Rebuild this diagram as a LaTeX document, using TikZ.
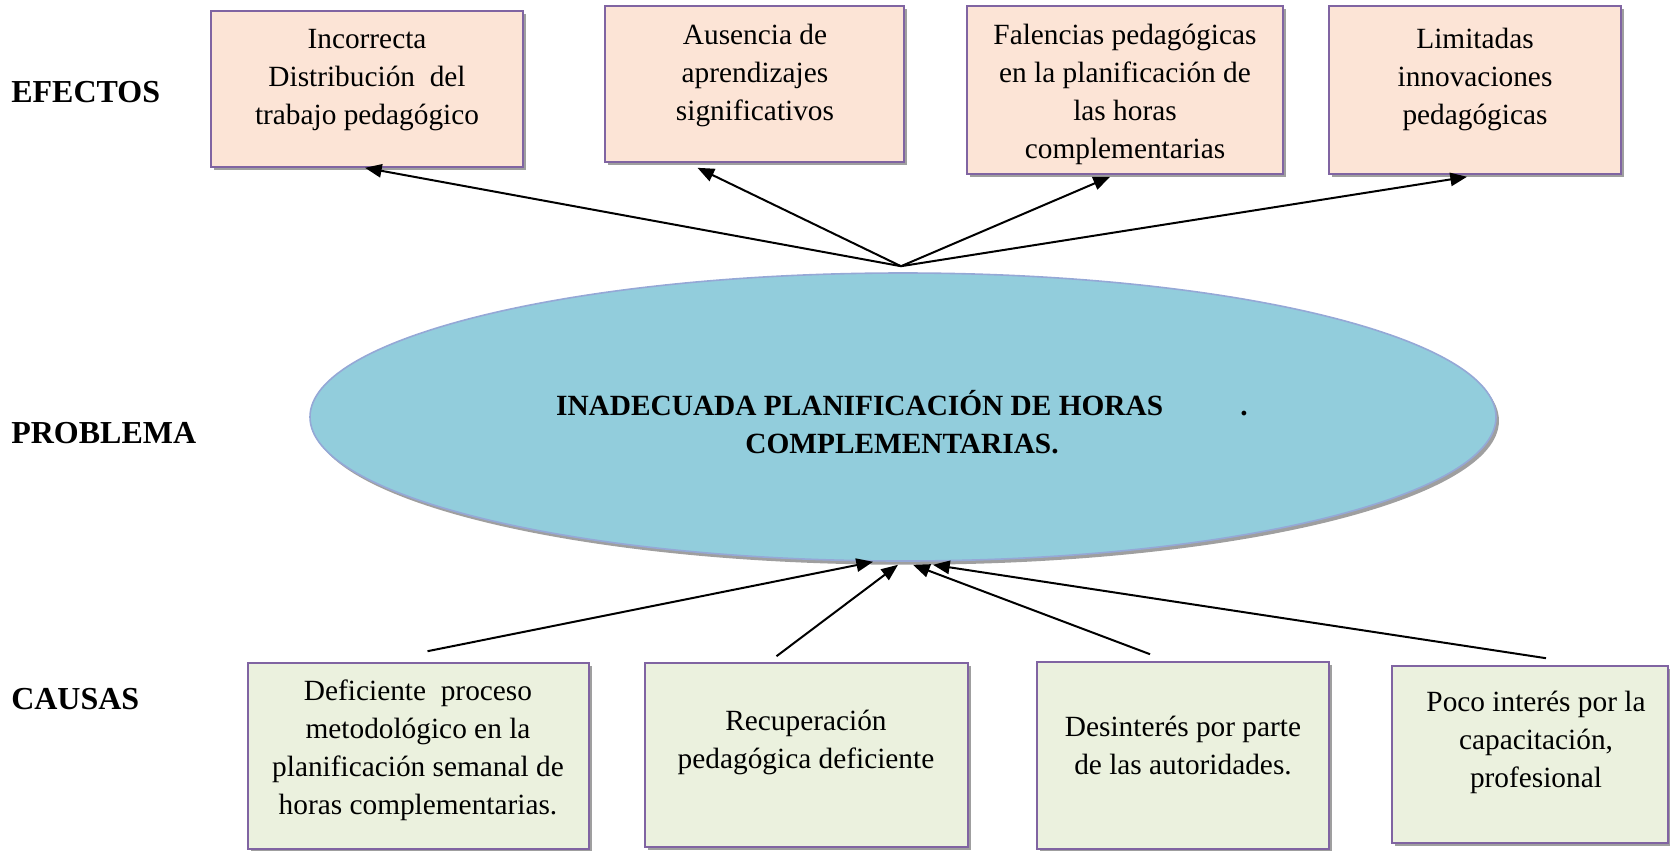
\documentclass[tikz,border=0pt]{standalone}
\usepackage{fontspec}
\setmainfont{Liberation Serif}
\usetikzlibrary{arrows.meta,shapes.geometric,shadows,fit,calc}
\definecolor{peach}{HTML}{FCE4D6}
\definecolor{sage}{HTML}{EBF1DE}
\definecolor{boxborder}{HTML}{8064A2}
\definecolor{ellfill}{HTML}{92CDDC}
\definecolor{ellborder}{HTML}{95A8D6}
\tikzset{
  basebox/.style={draw=boxborder, line width=1.2pt, inner sep=0pt,
    drop shadow={shadow xshift=2pt, shadow yshift=-2.2pt, fill=gray!75, opacity=1}},
  effbox/.style={basebox, fill=peach},
  caubox/.style={basebox, fill=sage},
  txt/.style={align=center, inner sep=0pt, font=\fontsize{22}{28.5}\selectfont},
  lbl/.style={anchor=west, inner sep=0pt, font=\fontsize{24}{28}\selectfont\bfseries},
  arr/.style={line width=1.5pt, -{Triangle[length=12.5pt, width=10pt]}},
}
\begin{document}
\begin{tikzpicture}[x=0.75pt, y=-0.75pt]
\useasboundingbox (0,0) rectangle (1670,850);
% effect boxes
\node[effbox, fit={(211,11)(523,167)}] (E1) {};
\node[effbox, fit={(605,6)(904,162)}] (E2) {};
\node[effbox, fit={(967,6)(1283,174)}] (E3) {};
\node[effbox, fit={(1329,6)(1621,174)}] (E4) {};
% cause boxes
\node[caubox, fit={(248,663)(589,849)}] (C1) {};
\node[caubox, fit={(645,663)(968,847)}] (C2) {};
\node[caubox, fit={(1037,662)(1329,849)}] (C3) {};
\node[caubox, fit={(1392,666)(1668,843)}] (C4) {};
% problem ellipse
\node[ellipse, draw=ellborder, line width=1.2pt, fill=ellfill, inner sep=0pt,
  minimum width=889.5pt, minimum height=216pt,
  drop shadow={shadow xshift=2.2pt, shadow yshift=-2.8pt, fill=gray!75, opacity=1}] (P) at (903,417) {};
% texts
\node[txt] (tE1) at (367,80) {Incorrecta\\Distribución\ \ del\\trabajo pedagógico};
\node[txt] (tE2) at (755,75.5) {Ausencia de\\aprendizajes\\significativos};
\node[txt] (tE3) at (1125,94.5) {Falencias pedagógicas\\en la planificación de\\las horas\\complementarias};
\node[txt] (tE4) at (1475,79) {Limitadas\\innovaciones\\pedagógicas};
\node[txt] (tC1) at (418,750) {Deficiente\ \ proceso\\metodológico en la\\planificación semanal de\\horas complementarias.};
\node[txt] (tC2) at (806,742.5) {Recuperación\\pedagógica deficiente};
\node[txt] (tC3) at (1183,745) {Desinterés por parte\\de las autoridades.};
\node[txt] (tC4) at (1536,742) {Poco interés por la\\capacitación,\\profesional};
\node[txt, font=\fontsize{22}{28.5}\selectfont\bfseries] (tP) at (902,422.5)
  {INADECUADA PLANIFICACIÓN DE HORAS\hspace{58pt}.\\COMPLEMENTARIAS.};
% side labels
\node[lbl] (L1) at (11,92) {EFECTOS};
\node[lbl] (L2) at (11,433) {PROBLEMA};
\node[lbl] (L3) at (11,699) {CAUSAS};
% connectors
\coordinate (hub) at ($(P.north)+(-2,-6)$);
\draw[arr] (hub) -- ($(E1.south)+(-2,0)$);
\draw[arr] (hub) -- ($(E2.south)+(-57,5)$);
\draw[arr] (hub) -- ($(E3.south)+(-15,2)$);
\draw[arr] (hub) -- ($(E4.south)+(-8,2)$);
\coordinate (c1) at ($(C1.north)+(9,-11)$);
\coordinate (c2) at ($(C2.north)+(-30,-6)$);
\coordinate (c3) at ($(C3.north)+(-33,-7)$);
\coordinate (c4) at ($(C4.north)+(16,-7)$);
\draw[arr] (c1) -- ($(P.south)+(-30,0)$);
\draw[arr] (c2) -- ($(P.south)+(-5,3)$);
\draw[arr] (c3) -- ($(P.south)+(10,3)$);
\draw[arr] (c4) -- ($(P.south)+(30,3)$);
\end{tikzpicture}
\end{document}
